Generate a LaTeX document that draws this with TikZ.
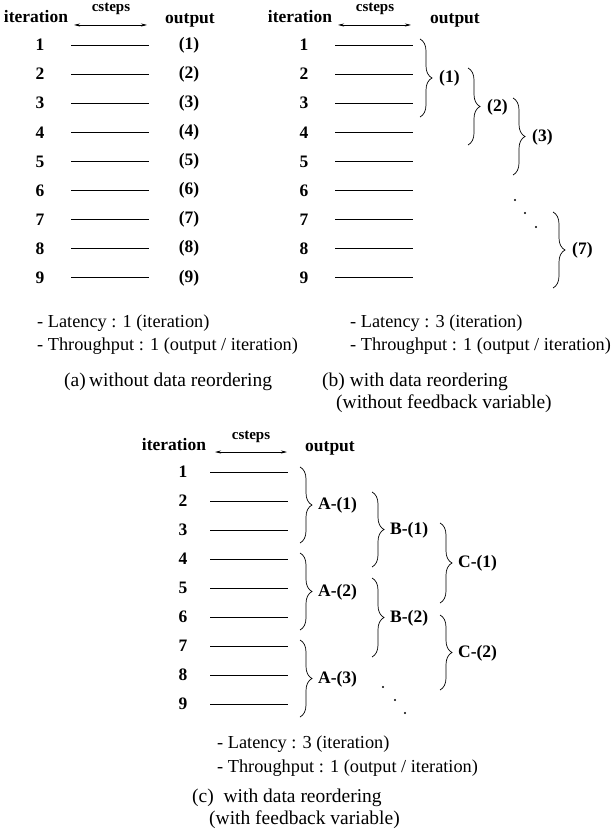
\documentclass[tikz,border=0pt]{standalone}
\usepackage{fontspec}
\setmainfont{Liberation Serif}
\usetikzlibrary{decorations.pathreplacing,arrows.meta}
\begin{document}
\begin{tikzpicture}[x=1pt,y=-1pt,
  hdr/.style={font=\fontsize{17.5}{17.5}\selectfont\bfseries, inner sep=0pt},
  cst/.style={font=\fontsize{15}{15}\selectfont\bfseries, inner sep=0pt},
  num/.style={font=\fontsize{17.5}{17.5}\selectfont\bfseries, inner sep=0pt},
  outl/.style={font=\fontsize{17.5}{17.5}\selectfont\bfseries, inner sep=0pt},
  lab/.style={font=\fontsize{17.5}{17.5}\selectfont\bfseries, inner sep=0pt, anchor=west},
  rowline/.style={line width=0.8pt},
  dblarrow/.style={line width=0.6pt, {Stealth[length=6pt,width=3pt]}-{Stealth[length=6pt,width=3pt]}},
  brc/.style={decorate, decoration={brace, amplitude=12pt}, line width=0.7pt},
  txt/.style={font=\fontsize{18.3}{20}\selectfont, anchor=west, inner sep=0pt},
  captxt/.style={font=\fontsize{19.5}{21}\selectfont, anchor=west, inner sep=0pt},
  dotm/.style={fill=black}
]
\useasboundingbox (0,0) rectangle (611,834);

% ---------- panel (a)
\node[hdr] (ait) at (36,17) {iteration};
\node[cst] (acs) at (111,9) {csteps};
\coordinate (aal) at (74,25); \coordinate (aar) at (147,25);
\draw[dblarrow] (aal) -- (aar);
\node[hdr] (aout) at (190,20) {output};
\foreach \i in {1,...,9} {
  \pgfmathsetmacro{\yy}{45+29.1*(\i-1)}
  \node[num] (an\i) at (40,\yy) {\i};
  \coordinate (al\i) at (71,\yy); \coordinate (ar\i) at (149,\yy);
  \draw[rowline] (al\i) -- (ar\i);
  \node[outl] (ao\i) at (189,\yy) {(\i)};
}
\node[txt] (alat) at (37,323) {- Latency : 1 (iteration)};
\node[txt] (athr) at (37,346) {- Throughput : 1 (output / iteration)};
\node[captxt] (acap) at (64,382) {(a)\,without data reordering};

% ---------- panel (b)
\node[hdr] (bit) at (300,17) {iteration};
\node[cst] (bcs) at (375,9) {csteps};
\coordinate (bal) at (338,25); \coordinate (bar) at (411,25);
\draw[dblarrow] (bal) -- (bar);
\node[hdr] (bout) at (455,20) {output};
\foreach \i in {1,...,9} {
  \pgfmathsetmacro{\yy}{45+29.1*(\i-1)}
  \node[num] (bn\i) at (304,\yy) {\i};
  \coordinate (bl\i) at (335,\yy); \coordinate (br\i) at (413,\yy);
  \draw[rowline] (bl\i) -- (br\i);
}
\coordinate (bb1t) at (420,39);  \coordinate (bb1b) at (420,117);
\coordinate (bb2t) at (468,68);  \coordinate (bb2b) at (468,145);
\coordinate (bb3t) at (513,98);  \coordinate (bb3b) at (513,175);
\coordinate (bb7t) at (553,212); \coordinate (bb7b) at (553,288);
\draw[brc] (bb1t) -- (bb1b);
\draw[brc] (bb2t) -- (bb2b);
\draw[brc] (bb3t) -- (bb3b);
\draw[brc] (bb7t) -- (bb7b);
\node[lab] (bo1) at (439,78) {(1)};
\node[lab] (bo2) at (487,107) {(2)};
\node[lab] (bo3) at (532,137) {(3)};
\node[lab] (bo7) at (572,250) {(7)};
\fill[dotm] (515,200) circle (1.2);
\fill[dotm] (525,213) circle (1.2);
\fill[dotm] (536,227) circle (1.2);
\node[txt] (blat) at (350,323) {- Latency : 3 (iteration)};
\node[txt] (bthr) at (350,346) {- Throughput : 1 (output / iteration)};
\node[captxt] (bcap) at (322,382) {(b) with data reordering};
\node[captxt] (bcap2) at (336,404) {(without feedback variable)};

% ---------- panel (c)
\node[hdr] (cit) at (174,445) {iteration};
\node[cst] (ccs) at (251,437) {csteps};
\coordinate (cal) at (215,452); \coordinate (car) at (287,452);
\draw[dblarrow] (cal) -- (car);
\node[hdr] (cout) at (330,448) {output};
\foreach \i in {1,...,9} {
  \pgfmathsetmacro{\yy}{472+29*(\i-1)}
  \node[num] (cn\i) at (183,\yy) {\i};
  \coordinate (cl\i) at (210,\yy); \coordinate (cr\i) at (288,\yy);
  \draw[rowline] (cl\i) -- (cr\i);
}
\coordinate (ca1t) at (300,467); \coordinate (ca1b) at (300,543);
\coordinate (ca2t) at (300,553); \coordinate (ca2b) at (300,630);
\coordinate (ca3t) at (300,640); \coordinate (ca3b) at (300,717);
\coordinate (cb1t) at (372,492); \coordinate (cb1b) at (372,567);
\coordinate (cb2t) at (372,578); \coordinate (cb2b) at (372,657);
\coordinate (cc1t) at (440,523); \coordinate (cc1b) at (440,603);
\coordinate (cc2t) at (440,615); \coordinate (cc2b) at (440,690);
\draw[brc] (ca1t) -- (ca1b);
\draw[brc] (ca2t) -- (ca2b);
\draw[brc] (ca3t) -- (ca3b);
\draw[brc] (cb1t) -- (cb1b);
\draw[brc] (cb2t) -- (cb2b);
\draw[brc] (cc1t) -- (cc1b);
\draw[brc] (cc2t) -- (cc2b);
\node[lab] (cA1) at (318,505) {A-(1)};
\node[lab] (cA2) at (318,592) {A-(2)};
\node[lab] (cA3) at (318,679) {A-(3)};
\node[lab] (cB1) at (390,530) {B-(1)};
\node[lab] (cB2) at (390,618) {B-(2)};
\node[lab] (cC1) at (458,563) {C-(1)};
\node[lab] (cC2) at (458,653) {C-(2)};
\fill[dotm] (383,687) circle (1.2);
\fill[dotm] (395,700) circle (1.2);
\fill[dotm] (405,713) circle (1.2);
\node[txt] (clat) at (217,744) {- Latency : 3 (iteration)};
\node[txt] (cthr) at (217,768) {- Throughput : 1 (output / iteration)};
\node[captxt] (ccap) at (192,798) {(c)\ \ with data reordering};
\node[captxt] (ccap2) at (209,820) {(with feedback variable)};
\end{tikzpicture}
\end{document}
